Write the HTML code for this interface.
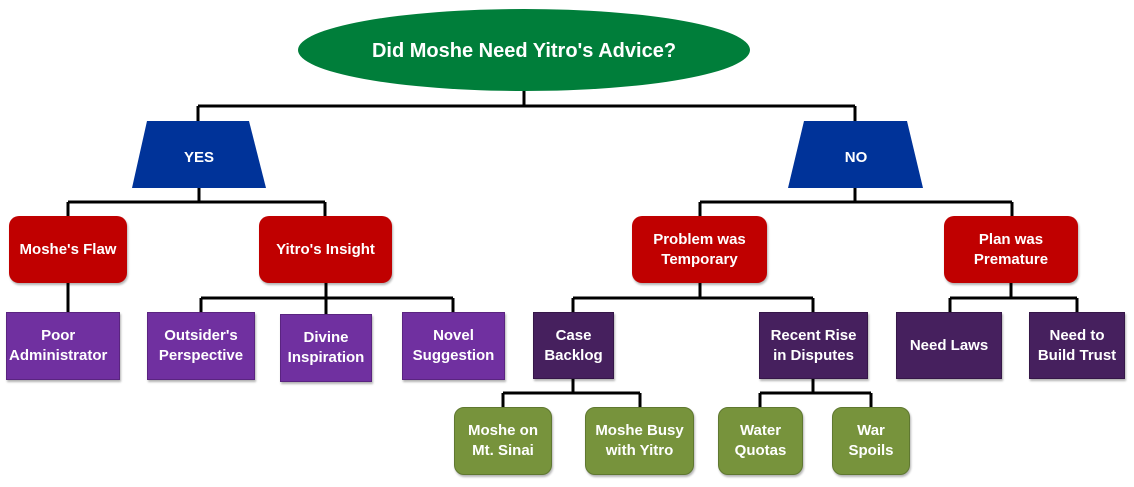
<!DOCTYPE html>
<html><head><meta charset="utf-8"><style>
html,body{margin:0;padding:0;background:#fff;width:1134px;height:487px;overflow:hidden;font-family:"Liberation Sans",sans-serif}
.n{position:absolute;display:flex;align-items:center;justify-content:center;text-align:center;color:#fff;font-weight:bold;font-size:15px;line-height:20px;box-sizing:border-box;box-shadow:1px 2px 2px rgba(0,0,0,0.3)}
.r{background:#c00000;border-radius:10px}
.p{background:#7030a0;border:1px solid #5a2480}
.d{background:#46205e;border:1px solid #351648}
.g{background:#77933c;border-radius:10px;border:1px solid #5f7830}
</style></head><body>
<svg width="1134" height="487" style="position:absolute;left:0;top:0">
<g stroke="#000" stroke-width="3" fill="none">
<path d="M524 91V106M198 106H855M198 106V121M855 106V121"/>
<path d="M199 188V202M68 202H325M68 202V216M325 202V216"/>
<path d="M855 188V202M700 202H1012M700 202V216M1012 202V216"/>
<path d="M68 283V312"/>
<path d="M326 283V298M201 298H453M201 298V312M326 298V314M453 298V312"/>
<path d="M700 283V298M573 298H813M573 298V312M813 298V312"/>
<path d="M1011 283V298M950 298H1077M950 298V312M1077 298V312"/>
<path d="M573 379V393M503 393H640M503 393V407M640 393V407"/>
<path d="M813 379V393M760 393H871M760 393V407M871 393V407"/>
</g>
<ellipse cx="524" cy="50" rx="226" ry="41" fill="#007e3a"/>
<text x="524" y="57" fill="#fff" font-family="Liberation Sans" font-weight="bold" font-size="20" text-anchor="middle">Did Moshe Need Yitro's Advice?</text>
<polygon points="147,121 249,121 266,188 132,188" fill="#003399"/>
<text x="199" y="162" fill="#fff" font-family="Liberation Sans" font-weight="bold" font-size="15" text-anchor="middle">YES</text>
<polygon points="804,121 907,121 923,188 788,188" fill="#003399"/>
<text x="856" y="162" fill="#fff" font-family="Liberation Sans" font-weight="bold" font-size="15" text-anchor="middle">NO</text>
</svg>
<div class="n r" style="left:9px;top:216px;width:118px;height:67px">Moshe's Flaw</div>
<div class="n r" style="left:259px;top:216px;width:133px;height:67px">Yitro's Insight</div>
<div class="n r" style="left:632px;top:216px;width:135px;height:67px">Problem was<br>Temporary</div>
<div class="n r" style="left:944px;top:216px;width:134px;height:67px">Plan was<br>Premature</div>
<div class="n p" style="left:6px;top:312px;width:114px;height:68px;justify-content:flex-start;padding-left:2px;white-space:nowrap;overflow:hidden">Poor<br>Administrator</div>
<div class="n p" style="left:147px;top:312px;width:108px;height:68px">Outsider's<br>Perspective</div>
<div class="n p" style="left:280px;top:314px;width:92px;height:68px">Divine<br>Inspiration</div>
<div class="n p" style="left:402px;top:312px;width:103px;height:68px">Novel<br>Suggestion</div>
<div class="n d" style="left:533px;top:312px;width:81px;height:67px">Case<br>Backlog</div>
<div class="n d" style="left:759px;top:312px;width:109px;height:67px">Recent Rise<br>in Disputes</div>
<div class="n d" style="left:896px;top:312px;width:106px;height:67px">Need Laws</div>
<div class="n d" style="left:1029px;top:312px;width:96px;height:67px">Need to<br>Build Trust</div>
<div class="n g" style="left:454px;top:407px;width:98px;height:68px">Moshe on<br>Mt. Sinai</div>
<div class="n g" style="left:585px;top:407px;width:109px;height:68px">Moshe Busy<br>with Yitro</div>
<div class="n g" style="left:718px;top:407px;width:85px;height:68px">Water<br>Quotas</div>
<div class="n g" style="left:832px;top:407px;width:78px;height:68px">War<br>Spoils</div>
</body></html>
